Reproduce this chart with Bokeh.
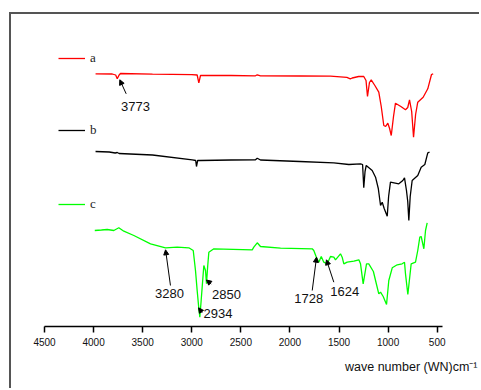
from bokeh.plotting import figure
from bokeh.models import (Range1d, FixedTicker, Legend, LegendItem, Label, Arrow,
                          NormalHead, Title)
from bokeh.embed import file_html
from bokeh.resources import INLINE

# ---- data (wavenumber cm^-1, transmittance a.u. incl. vertical offset) ----
a_wn = [3980, 3810, 3775, 3759, 3740, 3726, 3400, 3000, 2945, 2928, 2911, 2600, 2351, 2333,
        2300, 1900, 1587, 1420, 1385, 1366, 1300, 1248, 1225, 1210, 1190, 1172, 1135, 1095,
        1070, 1044, 1025, 1003, 985, 968, 945, 925, 870, 823, 800, 782, 760, 741, 720, 698,
        643, 596, 558, 541]
a_t = [252.7, 252.5, 251.5, 247.7, 251.5, 253, 252.3, 251.8, 251.5, 243.7, 251, 251, 250.7, 251.7,
       250.7, 250.5, 250.3, 249.2, 247.7, 248.5, 250, 250, 246, 230, 244, 246.7, 241, 234.3,
       220, 201, 200, 203.3, 198, 191, 210, 223.3, 220, 216.7, 219, 226.7, 215, 189.3, 212, 224.3,
       229.3, 237.7, 252, 252.7]

b_wn = [3980, 3840, 3780, 3759, 3740, 3400, 2995, 2960, 2952, 2940, 2911, 2600, 2351, 2333,
        2300, 1900, 1553, 1400, 1281, 1260, 1248, 1235, 1223, 1162, 1128, 1100, 1077, 1060,
        1040, 1009, 995, 976, 891, 850, 833, 813, 800, 789, 775, 755, 698, 663, 626, 596, 578]
b_t = [175, 174.5, 173.5, 174, 173, 171.5, 166.7, 166, 160, 166, 166, 166.5, 166.7, 168.3,
       166.5, 165, 163.7, 162, 162.7, 162, 138.7, 155, 161, 156, 149.3, 138, 121, 124.3,
       118, 110.3, 130, 144.3, 142.7, 146, 148.7, 136, 125, 106, 130, 146, 151, 159.3, 162, 173.7, 174.3]

c_wn = [3988, 3920, 3861, 3794, 3743, 3692, 3590, 3420, 3267, 3148, 3030, 2985, 2962, 2945,
        2930, 2918, 2905, 2894, 2877, 2860, 2850, 2838, 2826, 2775, 2384, 2368, 2333, 2300,
        2096, 1773, 1757, 1729, 1706, 1681, 1655, 1620, 1587, 1553, 1536, 1485, 1468, 1451,
        1417, 1349, 1298, 1281, 1254, 1220, 1197, 1150, 1128, 1095, 1077, 1050, 1016, 993,
        958, 907, 857, 833, 823, 799, 765, 721, 698, 677, 663, 636, 619, 602]
c_t = [96, 96.5, 97, 96, 98.7, 95.3, 91, 82.7, 78.7, 79.3, 78.7, 76, 56, 36,
       20, 9.3, 25, 39.3, 61, 56, 42.7, 60, 74.3, 77.7, 76.7, 79.3, 83.7, 80,
       78.3, 77.7, 76, 68.7, 64.3, 70, 64.3, 62.7, 70, 69.3, 66.7, 72.7, 69.3, 62.7,
       64.3, 65.3, 66.7, 62.7, 42.7, 62.7, 62.7, 55, 46, 32.7, 34.3, 30, 22, 46,
       58.7, 61.7, 62.7, 64.3, 52.7, 32, 62.7, 64.3, 76, 89.3, 90, 77.7, 96, 103.7]

series_names = ["a", "b", "c"]
series_colors = ["#ff0000", "#000000", "#00ff00"]
legend_locs = [(14, 260), (14, 188), (14, 114)]

ticks = [4500, 4000, 3500, 3000, 2500, 2000, 1500, 1000, 500]

# peak annotations: text, tip(x,y), tail(x,y), text(x,y), align
ann_text = ["3773", "3280", "2934", "2850", "1728", "1624"]
ann_tip_x = [3733, 3267, 2931, 2850, 1729, 1628]
ann_tip_y = [246.7, 76.7, 18.7, 46.5, 69.3, 66.7]
ann_tail_x = [3668, 3217, 2894, 2802, 1773, 1553]
ann_tail_y = [232.7, 41, 13.7, 42.5, 36, 44.3]
ann_txt_x = [3573, 3227, 2880, 2646, 1808, 1441]
ann_txt_y = [220.3, 32.7, 12.7, 31.7, 28.1, 35]
ann_align = ["center", "center", "left", "center", "center", "center"]

axis_title = "wave number (WN)cm\u207b\u00b9"

p = figure(width=470, height=376, output_backend="svg", toolbar_location=None,
           x_range=Range1d(4500, 446), y_range=Range1d(0, 306),
           y_axis_location=None,
           min_border_left=33, min_border_right=39, min_border_top=6, min_border_bottom=64)
# outer frame of the original graphic: only its left and top edges are in view
p.styles = {"margin-left": "11px", "margin-top": "14px",
            "box-shadow": "-2px -2px 0px 0px #555555"}
p.xgrid.visible = False
p.ygrid.visible = False
p.outline_line_color = None
p.background_fill_color = "white"
p.border_fill_color = "white"

ax = p.xaxis[0]
ax.ticker = FixedTicker(ticks=ticks)
ax.major_tick_out = 6
ax.major_tick_in = 0
ax.minor_tick_line_color = None
ax.axis_line_width = 1.5
ax.major_tick_line_width = 1.5
ax.axis_line_color = "black"
ax.major_tick_line_color = "black"
ax.major_label_text_font = "Liberation Sans"
ax.major_label_text_font_size = "10px"
ax.major_label_text_color = "#111111"
ax.major_label_standoff = 5

p.add_layout(Title(text=axis_title, align="right", offset=-35, standoff=18,
                   text_font="Liberation Sans", text_font_size="12.5px",
                   text_font_style="normal", text_color="#111111"), "below")

renderers = []
for wn, t, col in zip([a_wn, b_wn, c_wn], [a_t, b_t, c_t], series_colors):
    r = p.line(wn, t, line_color=col, line_width=1.3)
    renderers.append(r)

for name, r, loc in zip(series_names, renderers, legend_locs):
    lg = Legend(items=[LegendItem(label=name, renderers=[r])], location=loc,
                padding=0, margin=0, spacing=0, glyph_width=27, glyph_height=16,
                label_height=16, label_standoff=5, border_line_color=None,
                background_fill_alpha=0, label_text_font="Liberation Serif",
                label_text_font_size="13px", label_text_color="#222222")
    p.add_layout(lg, "center")

for txt, tx, ty, sx, sy, lx, ly, al in zip(ann_text, ann_tip_x, ann_tip_y, ann_tail_x,
                                         ann_tail_y, ann_txt_x, ann_txt_y, ann_align):
    p.add_layout(Arrow(end=NormalHead(size=5, fill_color="black", line_color="black"),
                       x_start=sx, y_start=sy, x_end=tx, y_end=ty,
                       line_color="black", line_width=1))
    p.add_layout(Label(x=lx, y=ly, text=txt, text_align=al, text_baseline="middle",
                       text_font="Liberation Sans", text_font_size="13px",
                       text_color="#111111"))

open("out.html", "w").write(file_html(p, INLINE))
